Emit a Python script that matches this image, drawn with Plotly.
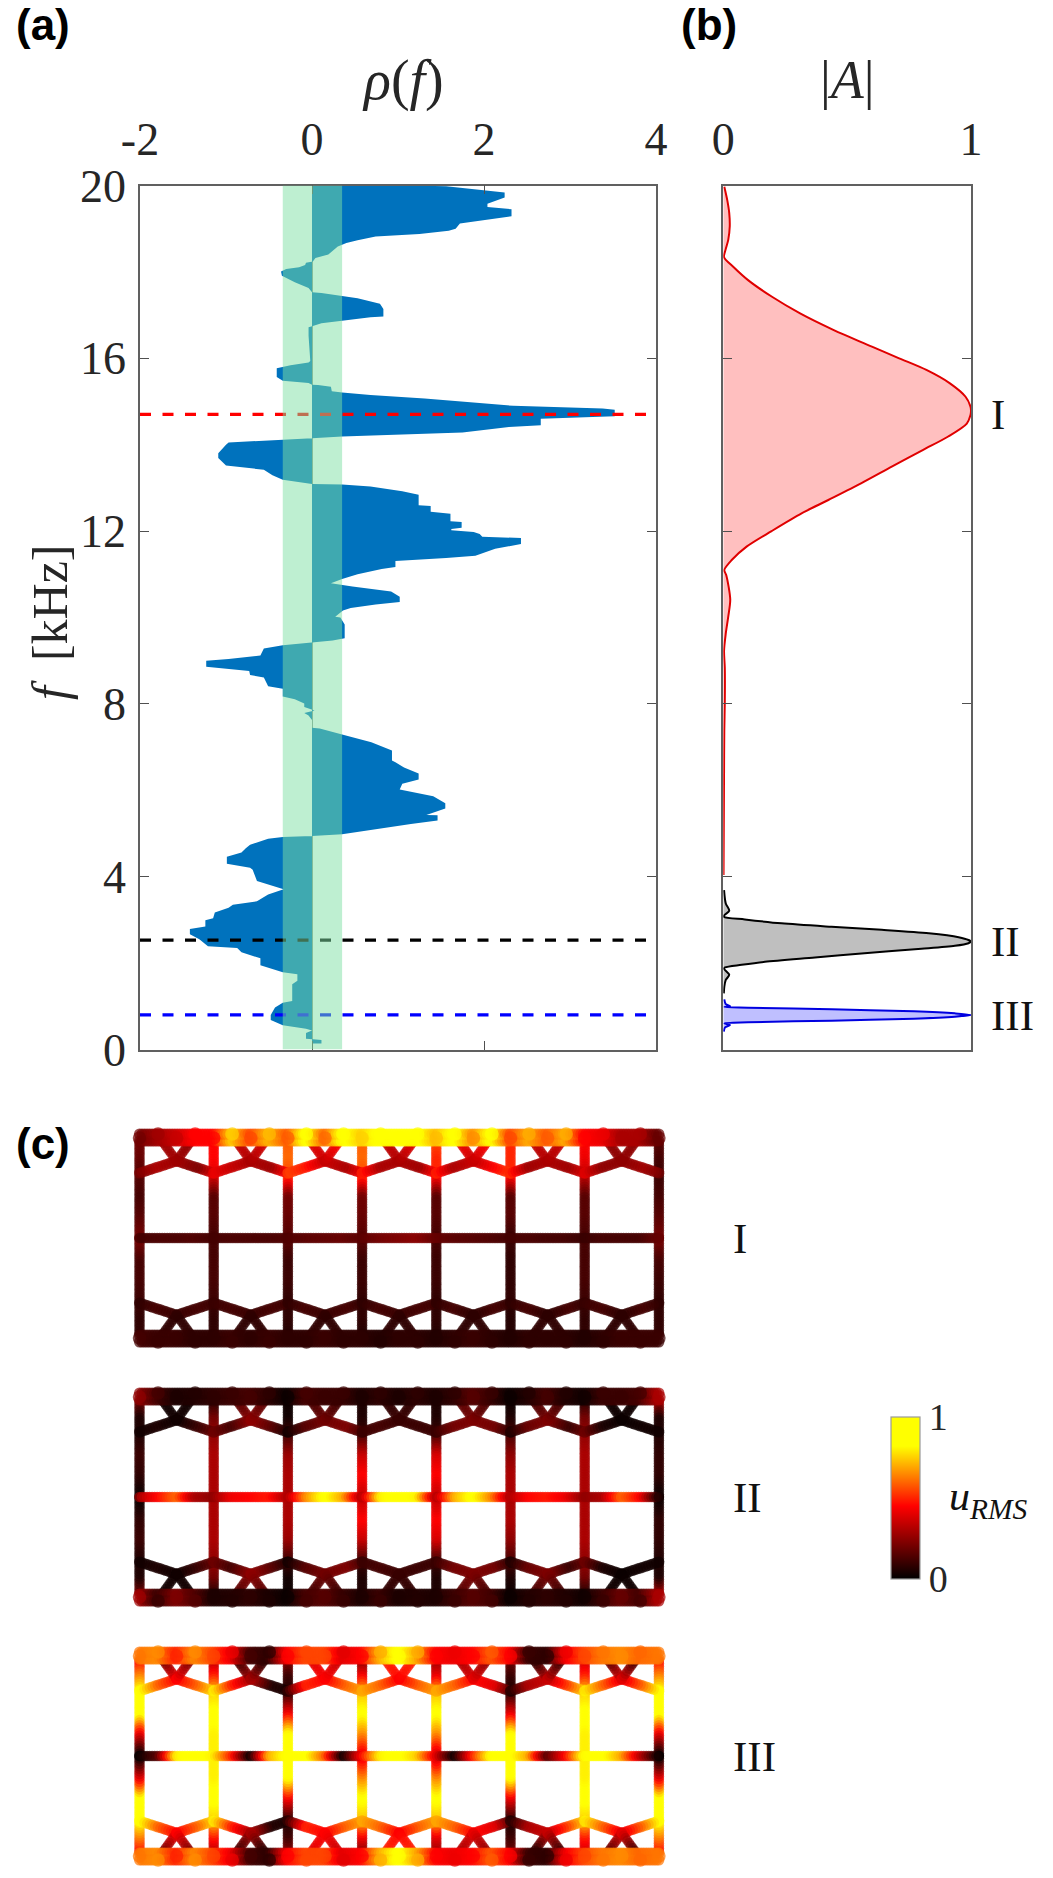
import numpy as np
import plotly.graph_objects as go

W, H = 1053, 1878

# ---------- panel (a): rho(f) ----------
f_rho = [20.00,20.00,19.98,19.84,19.72,19.58,19.50,19.45,19.29,19.12,19.00,18.95,18.88,18.82,18.73,18.67,18.59,18.46,18.40,18.32,18.24,
         18.21,18.16,18.11,18.07,18.01,17.91,17.76,17.63,17.53,17.51,17.44,17.39,17.26,17.14,16.97,16.95,16.87,16.81,16.75,16.72,16.52,
         15.94,15.90,15.84,15.77,15.57,15.48,15.43,15.39,15.38,15.34,15.24,15.21,15.15,15.07,14.99,14.90,14.84,14.81,14.66,14.60,14.45,
         14.41,14.28,14.24,14.19,14.15,14.12,14.05,14.00,13.80,13.69,13.52,13.42,13.29,13.19,13.11,13.09,13.08,13.03,12.92,12.84,12.60,
         12.58,12.45,12.40,12.23,12.21,12.08,12.05,12.02,11.98,11.93,11.87,11.84,11.70,11.59,11.43,11.38,11.31,11.17,11.12,11.00,10.89,
         10.79,10.76,10.72,10.60,10.48,10.36,10.30,10.22,10.16,10.02,10.00,9.84,9.52,9.47,9.43,9.40,9.38,9.36,9.28,9.12,9.04,9.00,8.86,
         8.80,8.76,8.67,8.61,8.41,8.35,8.17,8.11,8.01,7.93,7.85,7.79,7.73,7.63,7.45,7.43,7.29,7.11,6.92,6.69,6.65,6.53,6.39,6.25,6.15,
         6.02,5.86,5.70,5.58,5.43,5.42,5.30,5.22,5.10,4.98,4.94,4.92,4.88,4.74,4.66,4.56,4.46,4.30,4.21,4.16,3.90,3.82,3.71,3.59,3.43,
         3.35,3.28,3.17,3.04,2.99,2.85,2.79,2.67,2.55,2.39,2.35,2.25,2.11,1.95,1.79,1.74,1.59,1.51,1.12,1.08,0.97,0.80,0.68,0.56,0.48,
         0.44,0.38,0.25,0.24,0.22,0.14,0.14]
rho = [0,1.15,1.56,2.24,2.24,2.04,2.04,2.32,2.32,1.72,1.67,1.59,1.25,.74,.53,.40,.30,.22,.19,.04,.01,
       -.07,-.08,-.15,-.30,-.36,-.35,-.20,-.04,0,.11,.35,.53,.79,.83,.83,.68,.35,.11,.01,-.04,-.04,
       -.02,-.04,-.25,-.41,-.41,-.34,-.04,0,.07,.22,.23,.35,.68,1.31,1.77,2.34,3.38,3.52,3.52,2.66,2.66,
       2.29,1.75,1.05,.35,0,-.35,-.97,-1.0,-1.09,-1.09,-1.0,-.56,-.46,-.34,-.04,0,.35,.68,1.05,1.24,1.24,
       1.38,1.38,1.61,1.61,1.74,1.74,1.62,1.62,1.88,1.95,1.98,2.43,2.43,2.13,1.90,1.56,.97,.97,.81,.53,.35,
       .22,.35,.47,.92,1.02,1.02,.74,.45,.36,.27,.33,.38,.38,.24,.01,-.15,-.30,-.34,-.56,-.60,-.97,-1.23,-1.23,
       -.97,-.73,-.72,-.56,-.51,-.34,-.34,-.20,-.09,-.09,.03,-.09,-.04,0,0,.09,.35,.69,.93,.93,.97,1.07,1.24,1.24,1.05,
       1.02,1.41,1.55,1.55,1.33,1.46,1.46,1.15,.74,.35,0,-.34,-.51,-.72,-.77,-.82,-.99,-.99,-.72,-.69,-.64,-.51,-.33,-.51,-.64,
       -.92,-.97,-1.13,-1.15,-1.24,-1.24,-1.42,-1.42,-1.31,-1.21,-.87,-.82,-.60,-.60,-.34,-.17,-.17,-.23,-.23,-.34,-.43,-.48,-.48,-.34,-.07,
       0,-.07,-.07,.01,.11,.11,0]
band_rho = [-0.34, 0.35]
mode_f = [14.70, 2.53, 0.80]
mode_colors = ["#ff0000", "#000000", "#0000ff"]
dash_end = 3.92

# ---------- panel (b): |A| ----------
red_f = [19.97,19.66,19.36,19.05,18.74,18.51,18.34,18.12,17.81,17.43,17.04,16.66,16.27,16.0,15.73,15.42,15.11,14.88,14.78,14.69,14.49,14.19,13.88,13.49,13.11,12.72,12.41,12.0,11.64,11.33,11.10,10.98,10.42,10.02,9.63,9.23,8.83,8.03,7.39,6.43,4.04]
red_A = [.004,.016,.024,.026,.02,.009,.003,.04,.10,.195,.31,.444,.6,.71,.82,.915,.978,.998,1,.998,.983,.908,.807,.68,.558,.424,.316,.195,.094,.034,.004,.012,.028,.02,.01,.003,.006,.006,.004,.003,.001]
blk_f = [3.69,3.38,3.21,3.11,3.07,3.01,2.92,2.84,2.77,2.69,2.60,2.535,2.497,2.46,2.40,2.33,2.23,2.13,2.03,1.96,1.90,1.87,1.73,1.61,1.45,1.30]
blk_A = [.003,.01,.024,.004,.003,.087,.235,.437,.64,.83,.95,.99,1,.99,.935,.80,.57,.37,.168,.074,.007,.003,.024,.01,.004,.002]
blu_f = [1.16,1.05,1.007,.984,.969,.93,.884,.837,.799,.76,.714,.668,.63,.606,.567,.513,.413]
blu_A = [.004,.01,.027,.004,.1,.437,.77,.935,1,.935,.77,.437,.1,.004,.027,.007,.002]

# ---------- panel (c): u_RMS read along the lattice ----------
I_strip_top = [.2,.28,.35,.45,.45,.75,.55,.72,.58,.85,.6,.85,.75,.85,.85,.85,.72,.85,.65,.85,.55,.7,.58,.7,.45,.42,.3,.3,.18]
I_strip_bot = [.12,.1,.1,.08,.08,.1,.08,.1,.08,.08,.1,.08,.08,.06,.08,.08,.06,.08,.1,.08,.06,.08,.08,.08,.06,.08,.1,.1,.1]
I_mid = [.12,.13,.13,.14,.12,.13,.13,.13,.14,.16,.17,.18,.16,.2,.22,.24,.18,.16,.15,.14,.12,.13,.12,.12,.1,.12,.12,.12,.18]
I_vert_up = [[.2,.18,.15,.12,.15,.2],[.45,.45,.4,.15,.15,.12],[.58,.6,.55,.2,.18,.15],[.58,.6,.55,.2,.18,.15],
             [.55,.5,.5,.15,.15,.12],[.5,.5,.5,.15,.15,.1],[.45,.42,.35,.15,.15,.12],[.15,.12,.1,.12,.15,.2]]
I_vert_dn = [[.08,.08,.1,.12,.12,.2],[.08,.08,.1,.12,.12,.12],[.06,.08,.08,.1,.1,.15],[.06,.08,.08,.1,.1,.15],
             [.06,.08,.08,.1,.1,.12],[.06,.06,.08,.08,.08,.1],[.08,.08,.1,.12,.12,.12],[.08,.08,.08,.1,.12,.2]]
I_chev_up = [[.22,.3,.28],[.42,.22,.28],[.42,.35,.3],[.5,.28,.3],[.55,.48,.35],[.45,.3,.35],[.5,.3,.3],[.5,.28,.3],
             [.5,.3,.35],[.55,.45,.35],[.5,.28,.3],[.4,.28,.3],[.4,.25,.25],[.22,.28,.25]]
I_chev_dn = [[.08,.12,.1],[.1,.12,.1],[.1,.12,.1],[.1,.12,.1],[.08,.12,.1],[.08,.12,.1],[.08,.12,.1],[.1,.12,.1],
             [.08,.12,.08],[.08,.12,.08],[.08,.12,.08],[.08,.12,.08],[.1,.12,.08],[.08,.12,.08]]
I_arm_up = [[.28,.28],[.28,.25],[.3,.35],[.3,.38],[.35,.4],[.35,.45],[.3,.35],[.3,.4],[.35,.42],[.35,.45],[.3,.35],[.3,.35],[.25,.25],[.25,.25]]
I_arm_dn = [[.08,.08]] * 14

II_strip_top = [.25,.12,.05,.06,.08,.1,.12,.08,.02,.12,.1,.1,.05,.08,.05,.08,.05,.08,.15,.1,.02,.06,.12,.06,.03,.1,.1,.12,.3]
II_strip_bot = [.28,.1,.22,.15,.05,.06,.08,.05,.02,.12,.15,.1,.05,.1,.05,.06,.05,.1,.15,.12,.02,.06,.08,.06,.03,.1,.18,.12,.3]
II_mid = [.3,.45,.6,.3,.25,.42,.45,.48,.3,.65,.85,.7,.3,.8,.85,.8,.3,.7,.85,.65,.3,.45,.48,.42,.25,.3,.6,.45,.05]
II_vert_up = [[.2,.05,.05,.1,.08,.02],[.05,.2,.25,.3,.3,.3],[.02,.03,.1,.27,.3,.3],[.05,.05,.1,.35,.45,.35],
              [.05,.05,.1,.38,.45,.35],[.02,.05,.12,.25,.3,.3],[.05,.2,.25,.3,.3,.3],[.3,.05,.05,.08,.08,.02]]
II_vert_dn = II_vert_up
II_chev_up = [[.03,.05,.03],[.2,.1,.03],[.2,.12,.25],[.03,.15,.25],[.03,.15,.2],[.1,.22,.2],[.1,.12,.1],[.1,.1,.1],
              [.1,.2,.22],[.05,.2,.22],[.05,.18,.22],[.2,.1,.22],[.2,.05,.02],[.03,.03,.02]]
II_chev_dn = II_chev_up
II_arm_up = [[.03,.03],[.03,.03],[.25,.15],[.25,.15],[.2,.12],[.2,.1],[.1,.08],[.1,.08],[.22,.15],[.22,.12],[.22,.12],[.22,.1],[.02,.03],[.02,.03]]
II_arm_dn = II_arm_up

III_strip_top = [.62,.65,.5,.65,.55,.42,.12,.08,.45,.55,.55,.4,.45,.7,.85,.7,.45,.42,.45,.58,.45,.1,.08,.42,.55,.62,.65,.6,.62]
III_strip_bot = III_strip_top
III_mid = [.02,.15,.8,.85,.8,.5,.02,.7,.85,.85,.6,.02,.45,.8,.85,.75,.4,.02,.5,.85,.85,.7,.15,.45,.85,.85,.7,.35,.02]
III_vert_up = [[.45,.65,.85,.85,.4,.02],[.3,.5,.75,.85,.8,.8],[.25,.1,.06,.45,.85,.85],[.2,.45,.72,.85,.65,.42],
               [.25,.42,.72,.85,.65,.38],[.2,.1,.05,.42,.85,.85],[.35,.5,.75,.85,.8,.8],[.45,.65,.85,.85,.4,.02]]
III_vert_dn = III_vert_up
III_chev_up = [[.85,.6,.45],[.8,.6,.45],[.8,.5,.3],[.04,.06,.3],[.1,.5,.45],[.7,.6,.45],[.7,.6,.45],[.7,.6,.45],
               [.7,.6,.45],[.08,.4,.45],[.05,.3,.35],[.8,.55,.35],[.8,.6,.4],[.85,.6,.4]]
III_chev_dn = III_chev_up
III_arm_up = [[.45,.2],[.45,.2],[.3,.1],[.3,.05],[.45,.4],[.45,.35],[.45,.5],[.45,.5],[.4,.3],[.4,.25],[.35,.05],[.35,.08],[.4,.15],[.4,.1]]
III_arm_dn = III_arm_up

panel_labels = ["I", "II", "III"]

# ---------- lattice geometry (drawing units) ----------
X0, PITCH = 139.5, 74.2
CY = [1238, 1497, 1756]
V_OFF = [95, 78, 62, 40, 20, 0]
CHEV_END, CHEV_MID = 65, 77
ARM_OUT, ARM_DX = 97, 14.5
ROW_OUT, ROW_IN = 104, 97


def beam(px, py, pc, ps, p0, p1, vals, size, pos=None, step=2.5):
    n = max(int(np.hypot(p1[0] - p0[0], p1[1] - p0[1]) / step), 2)
    t = np.linspace(0, 1, n)
    q = np.linspace(0, 1, len(vals)) if pos is None else pos
    px.extend(p0[0] + t * (p1[0] - p0[0]))
    py.extend(p0[1] + t * (p1[1] - p0[1]))
    pc.extend(np.interp(t, q, vals))
    ps.extend([size] * n)


def lattice(cy, strip_top, strip_bot, mid, v_up, v_dn, c_up, c_dn, a_up, a_dn):
    px, py, pc, ps = [], [], [], []
    xc = [X0 + PITCH * i for i in range(8)]
    qv = [(V_OFF[0] - o) / V_OFF[0] for o in V_OFF]
    for i, x in enumerate(xc):
        beam(px, py, pc, ps, (x, cy - V_OFF[0]), (x, cy), v_up[i], 10.5, qv)
        beam(px, py, pc, ps, (x, cy + V_OFF[0]), (x, cy), v_dn[i], 10.5, qv)
    for sgn, c_set, a_set in ((-1, c_up, a_up), (1, c_dn, a_dn)):
        for k in range(7):
            cx = xc[k] + PITCH / 2
            for j, side in enumerate((xc[k], xc[k + 1])):
                beam(px, py, pc, ps, (side, cy + sgn * CHEV_END), (cx, cy + sgn * CHEV_MID), c_set[2 * k + j], 11)
                dx = -ARM_DX if j == 0 else ARM_DX
                beam(px, py, pc, ps, (cx, cy + sgn * CHEV_MID), (cx + dx, cy + sgn * ARM_OUT), a_set[2 * k + j], 10)
    beam(px, py, pc, ps, (xc[0], cy), (xc[7], cy), mid, 10.5)
    for sgn, vals in ((-1, strip_top), (1, strip_bot)):
        beam(px, py, pc, ps, (xc[0], cy + sgn * ROW_IN), (xc[7], cy + sgn * ROW_IN), vals, 11)
        beam(px, py, pc, ps, (xc[0], cy + sgn * ROW_OUT), (xc[7], cy + sgn * ROW_OUT), vals, 11)
        for k, v in enumerate(vals):
            px.append(xc[0] + k * PITCH / 4)
            py.append(cy + sgn * (ROW_OUT if k % 2 else ROW_IN + 3))
            pc.append(v)
            ps.append(13.5)
    return px, py, pc, ps


fig = go.Figure()

# (a)
fig.add_trace(go.Scatter(x=rho, y=f_rho, mode="lines", fill="tozerox", fillcolor="#0072BD",
                         line=dict(width=0, color="#0072BD"), xaxis="x", yaxis="y", hoverinfo="skip"))
for fv, col in zip(mode_f, mode_colors):
    fig.add_trace(go.Scatter(x=[-2, dash_end], y=[fv, fv], mode="lines",
                             line=dict(color=col, width=3.2, dash="11px,11.5px"), xaxis="x", yaxis="y", hoverinfo="skip"))

# (b)
for fv, av, col, fillc in ((red_f, red_A, "#e00000", "rgba(255,0,0,0.25)"),
                           (blk_f, blk_A, "#000000", "rgba(0,0,0,0.25)"),
                           (blu_f, blu_A, "#0000e0", "rgba(0,0,255,0.25)")):
    fig.add_trace(go.Scatter(x=av, y=fv, mode="lines", fill="tozerox", fillcolor=fillc,
                             line=dict(color=col, width=2, shape="spline", smoothing=0.8), xaxis="x2", yaxis="y2", hoverinfo="skip"))

# (c)
panels = [
    (I_strip_top, I_strip_bot, I_mid, I_vert_up, I_vert_dn, I_chev_up, I_chev_dn, I_arm_up, I_arm_dn),
    (II_strip_top, II_strip_bot, II_mid, II_vert_up, II_vert_dn, II_chev_up, II_chev_dn, II_arm_up, II_arm_dn),
    (III_strip_top, III_strip_bot, III_mid, III_vert_up, III_vert_dn, III_chev_up, III_chev_dn, III_arm_up, III_arm_dn),
]
for cy, p in zip(CY, panels):
    px, py, pc, ps = lattice(cy, *p)
    fig.add_trace(go.Scatter(x=px, y=py, mode="markers", xaxis="x3", yaxis="y3", hoverinfo="skip",
                             marker=dict(color=pc, size=ps, coloraxis="coloraxis", line=dict(width=0))))

SERIF = "Liberation Serif"
TICK = dict(family=SERIF, size=46, color="#262626")
AX = dict(showgrid=False, automargin=False, linecolor="#606060", linewidth=1.6, mirror="ticks", ticks="inside",
          ticklen=9, tickwidth=1.4, tickcolor="#505050", tickfont=TICK)


def pxx(v):
    return v / W


def pxy(v):
    return 1 - v / H


fig.update_layout(
    template="none",
    width=W, height=H, margin=dict(l=0, r=0, t=0, b=0, pad=0, autoexpand=False), paper_bgcolor="white", plot_bgcolor="white",
    showlegend=False,
    xaxis=dict(AX, domain=[pxx(140), pxx(656)], range=[-2, 4], side="top", tickvals=[-2, 0, 2, 4],
               ticktext=["-2", "0", "2", "4"], anchor="y", zeroline=True, zerolinecolor="#8a9a90", zerolinewidth=1,
               ticklabelstandoff=10),
    yaxis=dict(AX, domain=[pxy(1049.5), pxy(185.5)], range=[0, 20], tickvals=[0, 4, 8, 12, 16, 20],
               anchor="x", zeroline=False, ticklabelstandoff=3),
    xaxis2=dict(AX, domain=[pxx(723.3), pxx(971)], range=[0, 1], side="top", tickvals=[0, 1],
                anchor="y2", zeroline=False, ticklabelstandoff=10),
    yaxis2=dict(AX, domain=[pxy(1049.5), pxy(185.5)], range=[0, 20], tickvals=[0, 4, 8, 12, 16, 20],
                showticklabels=False, anchor="x2", zeroline=False),
    xaxis3=dict(domain=[0, 1], range=[0, W], visible=False, anchor="y3", automargin=False),
    yaxis3=dict(domain=[0, pxy(1100)], range=[H, 1100], visible=False, anchor="x3", automargin=False),
    coloraxis=dict(
        cmin=0, cmax=1,
        colorscale=[[0, "#000000"], [0.45, "#ff0000"], [0.82, "#ffff00"], [1, "#ffff00"]],
        colorbar=dict(x=pxx(890.5), xanchor="left", xpad=0, y=pxy(1497.5), yanchor="middle", ypad=0,
                      len=162, lenmode="pixels", thickness=29, thicknessmode="pixels",
                      outlinecolor="#9a9a9a", outlinewidth=1.2,
                      tickvals=[0, 1], ticktext=["0", "1"], ticks="",
                      tickfont=dict(family=SERIF, size=38, color="#262626")),
    ),
    shapes=[dict(type="rect", xref="x", yref="y", x0=band_rho[0], x1=band_rho[1], y0=0, y1=20,
                 fillcolor="rgba(126,224,164,0.5)", line=dict(width=0), layer="above")],
)


def note(text, x, y, size, family=SERIF, anchor="center", angle=0, color="#262626"):
    fig.add_annotation(text=text, x=pxx(x), y=pxy(y), xref="paper", yref="paper", showarrow=False,
                       xanchor=anchor, yanchor="middle", textangle=angle,
                       font=dict(family=family, size=size, color=color))


note("<b>(a)</b>", 43, 25, 44, "Liberation Sans", color="#000000")
note("<b>(b)</b>", 709, 25, 44, "Liberation Sans", color="#000000")
note("<b>(c)</b>", 43, 1143, 44, "Liberation Sans", color="#000000")
note("<i>ρ</i>(<i>f</i>)", 403, 80, 56)
note("|<i>A</i>|", 847, 80, 54)
note("<i>f</i>  [kHz]", 50, 622, 50, angle=-90)
for txt, yy in zip(panel_labels, [414.5, 941, 1015]):
    note(txt, 989, yy, 43, anchor="left", color="#111111")
for txt, yy in zip(panel_labels, CY):
    note(txt, 731, yy, 43, anchor="left", color="#111111")
note("<i>u</i><sub><i>RMS</i></sub>", 988, 1499, 42, color="#111111")

fig.write_html("out.html", config={"displayModeBar": False},
               post_script="document.body.style.margin='0';document.body.style.overflow='hidden';")
